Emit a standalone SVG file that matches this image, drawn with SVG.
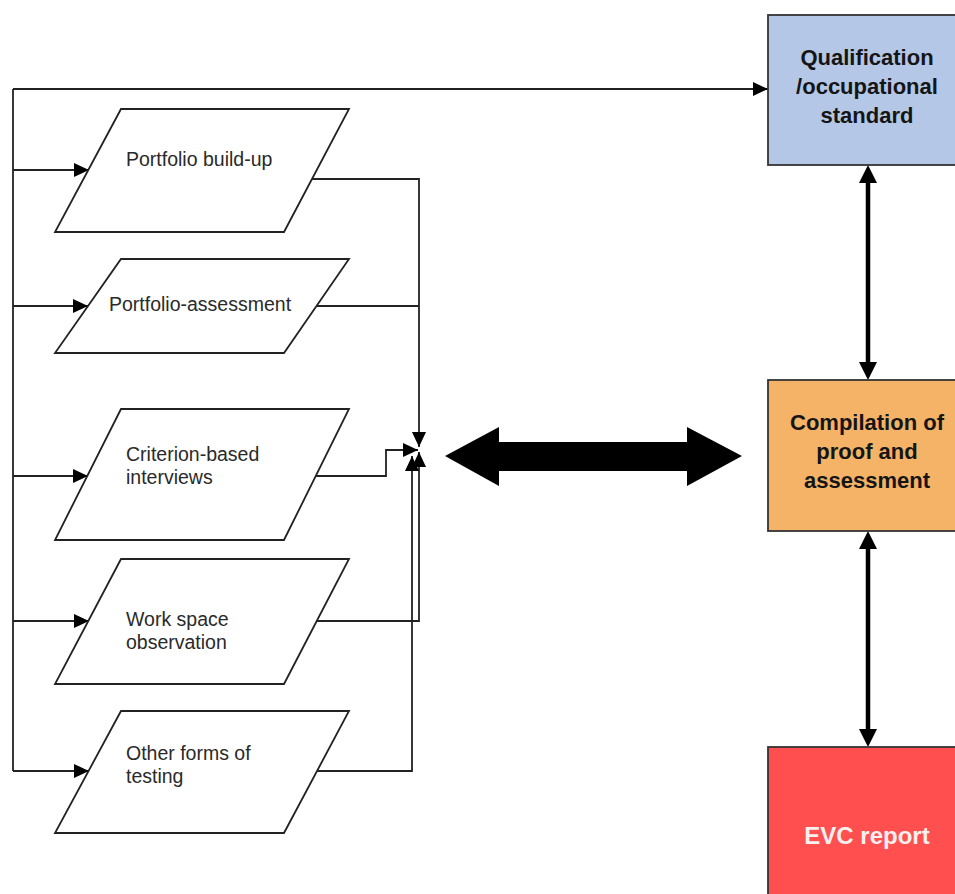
<svg xmlns="http://www.w3.org/2000/svg" width="955" height="894" viewBox="0 0 955 894">
<defs>
<marker id="arr" markerUnits="userSpaceOnUse" markerWidth="15" markerHeight="14" viewBox="0 0 15 14" refX="15" refY="7" orient="auto">
<path d="M0,0 L15,7 L0,14 z" fill="#000"/>
</marker>
<style>
.para{fill:#fff;stroke:#222;stroke-width:1.8}
.lbl{font-family:"Liberation Sans",Arial,sans-serif;font-size:19.5px;fill:#2a2a2a}
.box{stroke:#333;stroke-width:1.8}
.blbl{font-family:"Liberation Sans",Arial,sans-serif;font-size:22px;font-weight:bold;fill:#151515;text-anchor:middle}
.ln{fill:none;stroke:#222;stroke-width:1.8}
.ar{marker-end:url(#arr)}
</style>
</defs>
<rect width="955" height="894" fill="#fff"/>

<g id="connectors">
<path class="ln ar" d="M13,89 H768"/>
<path class="ln" d="M13,89 V771"/>
<path class="ln ar" d="M13,170 H89"/>
<path class="ln ar" d="M13,306 H88"/>
<path class="ln ar" d="M13,476 H88"/>
<path class="ln ar" d="M13,621 H89"/>
<path class="ln ar" d="M13,771 H89"/>
<path class="ln ar" d="M312,179 H419 V447"/>
<path class="ln" d="M316,306 H419"/>
<path class="ln ar" d="M316,476 H386 V450 H418"/>
<path class="ln ar" d="M317,621 H419 V452"/>
<path class="ln ar" d="M317,771 H412 V456"/>
<polygon points="445,456 499,427 499,442 687,442 687,427 742,456 687,486 687,471 499,471 499,486" fill="#000"/>
<line x1="868" y1="180" x2="868" y2="365" stroke="#000" stroke-width="4.5"/>
<polygon points="868,165 859,183 877,183" fill="#000"/>
<polygon points="868,380 859,362 877,362" fill="#000"/>
<line x1="868" y1="546" x2="868" y2="732" stroke="#000" stroke-width="4.5"/>
<polygon points="868,531 859,549 877,549" fill="#000"/>
<polygon points="868,747 859,729 877,729" fill="#000"/>
</g>

<g id="node-portfolio-buildup">
<polygon class="para" points="121,109 349,109 284,232 55,232"/>
<text class="lbl" x="126" y="166">Portfolio build-up</text>
</g>
<g id="node-portfolio-assessment">
<polygon class="para" points="121,259 349,259 284,353 55,353"/>
<text class="lbl" x="109" y="311">Portfolio-assessment</text>
</g>
<g id="node-criterion">
<polygon class="para" points="121,409 349,409 284,540 55,540"/>
<text class="lbl" x="126" y="461">Criterion-based</text>
<text class="lbl" x="126" y="484">interviews</text>
</g>
<g id="node-workspace">
<polygon class="para" points="121,559 349,559 284,684 55,684"/>
<text class="lbl" x="126" y="626">Work space</text>
<text class="lbl" x="126" y="649">observation</text>
</g>
<g id="node-other">
<polygon class="para" points="121,711 349,711 284,833 55,833"/>
<text class="lbl" x="126" y="760">Other forms of</text>
<text class="lbl" x="126" y="783">testing</text>
</g>

<g id="node-qualification">
<rect class="box" x="768" y="15" width="200" height="150" fill="#B4C7E7"/>
<text class="blbl" x="867" y="65">Qualification</text>
<text class="blbl" x="867" y="94">/occupational</text>
<text class="blbl" x="867" y="123">standard</text>
</g>
<g id="node-compilation">
<rect class="box" x="768" y="380" width="200" height="151" fill="#F4B366"/>
<text class="blbl" x="867" y="430">Compilation of</text>
<text class="blbl" x="867" y="459">proof and</text>
<text class="blbl" x="867" y="488">assessment</text>
</g>
<g id="node-evc">
<rect class="box" x="768" y="747" width="200" height="160" fill="#FF4F4F"/>
<text class="blbl" x="867" y="844" style="font-size:24px;fill:#F8F0F0">EVC report</text>
</g>
</svg>
